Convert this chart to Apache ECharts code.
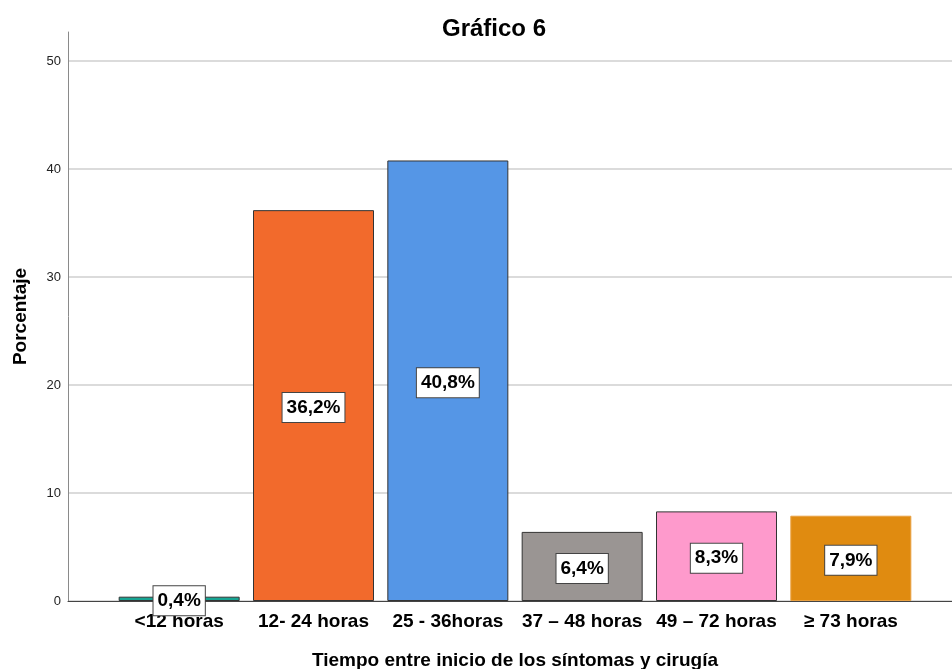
<!DOCTYPE html>
<html>
<head>
<meta charset="utf-8">
<script src="https://cdn.jsdelivr.net/npm/echarts@6/dist/echarts.min.js"></script>
<style>
  html, body { margin: 0; padding: 0; background: #fff; }
  #chart { width: 952px; height: 669px; }
</style>
</head>
<body>
<div id="chart"></div>
<script>
// Time from symptom onset to surgery, share of patients (%)
const categories = ['<12 horas', '12- 24 horas', '25 - 36horas', '37 \u2013 48 horas', '49 \u2013 72 horas', '\u2265 73 horas'];
const percentages = [0.4, 36.2, 40.8, 6.4, 8.3, 7.9];
const barColors = ['#17a593', '#f26a2c', '#5596e6', '#9a9593', '#fe9acc', '#e08b10'];
const barBorders = ['#333333', '#333333', '#333333', '#333333', '#333333', '#e8a040'];
const yTicks = [0, 10, 20, 30, 40, 50];

const Y_MAX = 52.7;
const FONT = 'Liberation Sans, Arial, sans-serif';

const chart = echarts.init(document.getElementById('chart'), null, { renderer: 'canvas' });

chart.setOption({
  animation: false,
  backgroundColor: '#ffffff',
  title: {
    text: 'Gráfico 6',
    left: 489,
    top: 12,
    textAlign: 'center',
    textStyle: { fontFamily: FONT, fontSize: 24, fontWeight: 'bold', color: '#000' }
  },
  grid: [
    // frame: value axis, gridlines and baseline
    { left: 68, right: 0, top: 32, bottom: 68, containLabel: false, outerBoundsMode: 'none' },
    // bar area
    { left: 112, right: 34, top: 32, bottom: 68, containLabel: false, outerBoundsMode: 'none' }
  ],
  xAxis: [
    {
      gridIndex: 0, type: 'value', min: 0, max: 1,
      axisLine: { show: true, lineStyle: { color: '#444', width: 1 } },
      axisTick: { show: false }, axisLabel: { show: false }, splitLine: { show: false }
    },
    {
      gridIndex: 1, type: 'category', data: categories,
      axisLine: { show: false }, axisTick: { show: false },
      axisLabel: { interval: 0, hideOverlap: false, margin: 11, fontFamily: FONT, fontSize: 19, fontWeight: 'bold', color: '#000' },
      name: 'Tiempo entre inicio de los síntomas y cirugía',
      nameLocation: 'middle', nameGap: 50,
      nameTextStyle: { fontFamily: FONT, fontSize: 19, fontWeight: 'bold', color: '#000' }
    }
  ],
  yAxis: [
    {
      gridIndex: 0, type: 'value', min: 0, max: Y_MAX,
      axisLine: { show: true, lineStyle: { color: '#8a8a8a', width: 1 } },
      axisTick: { show: false, customValues: yTicks },
      axisLabel: { customValues: yTicks, margin: 7, fontFamily: FONT, fontSize: 13, color: '#222' },
      splitLine: { show: true, lineStyle: { color: '#cfcfcf', width: 1.5 } },
      name: 'Porcentaje', nameLocation: 'middle', nameGap: 38,
      nameTextStyle: { fontFamily: FONT, fontSize: 19, fontWeight: 'bold', color: '#000' }
    },
    {
      gridIndex: 1, type: 'value', min: 0, max: Y_MAX, show: false,
      splitLine: { show: false }
    }
  ],
  series: [{
    type: 'bar',
    xAxisIndex: 1,
    yAxisIndex: 1,
    barWidth: 121,
    data: percentages.map((v, i) => ({
      value: v,
      itemStyle: { color: barColors[i], borderColor: barBorders[i], borderWidth: 1 }
    })),
    label: {
      show: true,
      position: 'inside',
      offset: [0, 2],
      formatter: p => p.value.toFixed(1).replace('.', ',') + '%',
      fontFamily: FONT, fontSize: 19, fontWeight: 'bold', color: '#000',
      backgroundColor: '#fff', borderColor: '#444', borderWidth: 1,
      padding: [5, 4, 4, 4], lineHeight: 20
    },
    z: 3
  }]
});
</script>
</body>
</html>
